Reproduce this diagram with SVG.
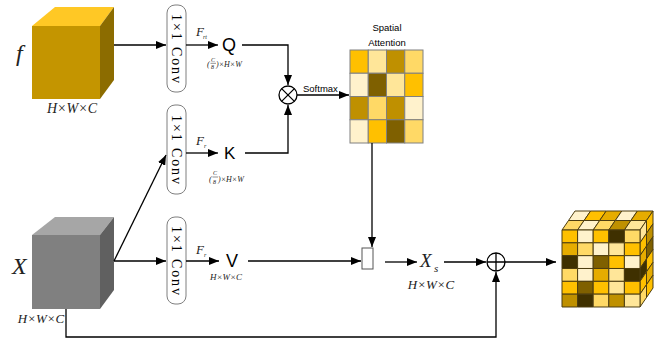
<svg xmlns="http://www.w3.org/2000/svg" width="656" height="340" viewBox="0 0 656 340">
<defs>
<marker id="ah" markerUnits="userSpaceOnUse" markerWidth="10" markerHeight="8" refX="10" refY="4" orient="auto">
<path d="M0,0 L10,4 L0,8 z" fill="#000"/>
</marker>
<style>
.ln{fill:none;stroke:#000;stroke-width:1.3}
.ar{marker-end:url(#ah)}
.conv{fill:#fff;stroke:#7f7f7f;stroke-width:1}
.ct{font-family:"Liberation Serif",serif;font-size:14px;fill:#000}
.it{font-family:"Liberation Serif",serif;font-style:italic;fill:#222}
.sans{font-family:"Liberation Sans",Arial,sans-serif;fill:#000}
.g rect{stroke:#808080;stroke-width:1}
.cb rect{stroke:#4d3d10;stroke-width:1;vector-effect:non-scaling-stroke}
.c1{fill:#FFF2CC}.c2{fill:#FFE699}.c3{fill:#FFD966}.c4{fill:#FFC000}.c5{fill:#E6AC00}.c6{fill:#BF9000}.c7{fill:#7F6000}.c8{fill:#3F3000}
</style>
</defs>

<g id="cube-f">
<polygon points="32,26 55,7 114,7 100,26" fill="#FFC825"/>
<polygon points="100,26 114,7 114,80 100,99" fill="#8C6C00"/>
<rect x="32" y="26" width="68" height="73" fill="#C49500"/>
<text class="it" x="16" y="61" font-size="24">f</text>
<text class="it" x="72" y="113" font-size="14" text-anchor="middle">H×W×C</text>
</g>

<g id="cube-x">
<polygon points="32,235 55,217 114,217 100,235" fill="#A6A6A6"/>
<polygon points="100,235 114,217 114,290 100,309" fill="#606060"/>
<rect x="32" y="235" width="68" height="74" fill="#808080"/>
<text class="it" x="12" y="274" font-size="24">X</text>
<text class="it" x="41" y="323" font-size="13" text-anchor="middle">H×W×C</text>
</g>

<g id="conv1">
<rect class="conv" x="167" y="5" width="19" height="87" rx="8"/>
<text class="ct" transform="translate(176.5,48.5) rotate(90)" text-anchor="middle" dominant-baseline="central" textLength="69" lengthAdjust="spacing">1×1 Conv</text>
</g>
<g id="conv2">
<rect class="conv" x="167" y="105" width="19" height="89" rx="8"/>
<text class="ct" transform="translate(176.5,149.5) rotate(90)" text-anchor="middle" dominant-baseline="central" textLength="69" lengthAdjust="spacing">1×1 Conv</text>
</g>
<g id="conv3">
<rect class="conv" x="167" y="217" width="19" height="87" rx="8"/>
<text class="ct" transform="translate(176.5,260.5) rotate(90)" text-anchor="middle" dominant-baseline="central" textLength="69" lengthAdjust="spacing">1×1 Conv</text>
</g>

<g id="q">
<text class="it" x="196" y="36" font-size="13">F</text>
<text class="it" x="203" y="39" font-size="6">rt</text>
<text class="sans" x="222" y="51" font-size="18">Q</text>
<text class="it" x="207" y="67" font-size="8">(</text>
<text class="it" x="211" y="62" font-size="6">C</text>
<line x1="210.5" y1="63.3" x2="216" y2="63.3" stroke="#222" stroke-width="0.5"/>
<text class="it" x="211" y="69" font-size="6">8</text>
<text class="it" x="216" y="67" font-size="8">)×H×W</text>
</g>

<g id="k">
<text class="it" x="196" y="145" font-size="13">F</text>
<text class="it" x="204" y="148" font-size="6">r</text>
<text class="sans" x="224" y="159" font-size="17">K</text>
<text class="it" x="209" y="182" font-size="8">(</text>
<text class="it" x="213" y="175" font-size="6">C</text>
<line x1="212.5" y1="177" x2="218" y2="177" stroke="#222" stroke-width="0.5"/>
<text class="it" x="213" y="184" font-size="6">8</text>
<text class="it" x="218" y="182" font-size="8">)×H×W</text>
</g>

<g id="v">
<text class="it" x="196" y="254" font-size="13">F</text>
<text class="it" x="204" y="257" font-size="6">r</text>
<text class="sans" x="226" y="267" font-size="18">V</text>
<text class="it" x="226" y="280" font-size="9" text-anchor="middle">H×W×C</text>
</g>

<g id="mul">
<circle cx="288" cy="95" r="9" fill="#fff" stroke="#000" stroke-width="1.3"/>
<path d="M281.6,88.6 L294.4,101.4 M294.4,88.6 L281.6,101.4" stroke="#000" stroke-width="1.3"/>
<text class="sans" x="303" y="92" font-size="9.5">Softmax</text>
</g>

<g id="attention">
<text class="sans" x="387" y="31" font-size="9.5" text-anchor="middle">Spatial</text>
<text class="sans" x="387" y="46" font-size="9.5" text-anchor="middle">Attention</text>
<g class="g">
<rect class="c4" x="350" y="50" width="18.25" height="23.25"/>
<rect class="c2" x="368.25" y="50" width="18.25" height="23.25"/>
<rect class="c6" x="386.5" y="50" width="18.25" height="23.25"/>
<rect class="c3" x="404.75" y="50" width="18.25" height="23.25"/>
<rect class="c1" x="350" y="73.25" width="18.25" height="23.25"/>
<rect class="c7" x="368.25" y="73.25" width="18.25" height="23.25"/>
<rect class="c2" x="386.5" y="73.25" width="18.25" height="23.25"/>
<rect class="c4" x="404.75" y="73.25" width="18.25" height="23.25"/>
<rect class="c6" x="350" y="96.5" width="18.25" height="23.25"/>
<rect class="c3" x="368.25" y="96.5" width="18.25" height="23.25"/>
<rect class="c6" x="386.5" y="96.5" width="18.25" height="23.25"/>
<rect class="c1" x="404.75" y="96.5" width="18.25" height="23.25"/>
<rect class="c1" x="350" y="119.75" width="18.25" height="23.25"/>
<rect class="c4" x="368.25" y="119.75" width="18.25" height="23.25"/>
<rect class="c7" x="386.5" y="119.75" width="18.25" height="23.25"/>
<rect class="c3" x="404.75" y="119.75" width="18.25" height="23.25"/>
</g>
</g>

<g id="matmul">
<rect x="362" y="248" width="11" height="21" fill="#fff" stroke="#555" stroke-width="1"/>
</g>

<g id="xs">
<text class="it" x="420" y="267" font-size="19">X</text>
<text class="it" x="434" y="272" font-size="11">s</text>
<text class="it" x="431" y="289" font-size="13" text-anchor="middle">H×W×C</text>
</g>

<g id="add">
<circle cx="496" cy="262" r="9" fill="#fff" stroke="#000" stroke-width="1.3"/>
<path d="M487,262 H505 M496,253 V271" stroke="#000" stroke-width="1.3"/>
</g>

<g id="output">
<g class="cb" transform="matrix(15.6,0,6.5,-9.5,562,230)">
<rect class="c3" x="0" y="0" width="1" height="1"/>
<rect class="c1" x="1" y="0" width="1" height="1"/>
<rect class="c3" x="2" y="0" width="1" height="1"/>
<rect class="c6" x="3" y="0" width="1" height="1"/>
<rect class="c2" x="4" y="0" width="1" height="1"/>
<rect class="c1" x="0" y="1" width="1" height="1"/>
<rect class="c4" x="1" y="1" width="1" height="1"/>
<rect class="c5" x="2" y="1" width="1" height="1"/>
<rect class="c1" x="3" y="1" width="1" height="1"/>
<rect class="c5" x="4" y="1" width="1" height="1"/>
</g>
<g class="cb" transform="matrix(6.5,-9.5,0,12.833,640,230)">
<rect class="c2" x="0" y="0" width="1" height="1"/>
<rect class="c4" x="1" y="0" width="1" height="1"/>
<rect class="c4" x="0" y="1" width="1" height="1"/>
<rect class="c6" x="1" y="1" width="1" height="1"/>
<rect class="c5" x="0" y="2" width="1" height="1"/>
<rect class="c7" x="1" y="2" width="1" height="1"/>
<rect class="c8" x="0" y="3" width="1" height="1"/>
<rect class="c4" x="1" y="3" width="1" height="1"/>
<rect class="c4" x="0" y="4" width="1" height="1"/>
<rect class="c5" x="1" y="4" width="1" height="1"/>
<rect class="c3" x="0" y="5" width="1" height="1"/>
<rect class="c4" x="1" y="5" width="1" height="1"/>
</g>
<g class="cb" transform="matrix(15.6,0,0,12.833,562,230)">
<rect class="c4" x="0" y="0" width="1" height="1"/>
<rect class="c1" x="1" y="0" width="1" height="1"/>
<rect class="c4" x="2" y="0" width="1" height="1"/>
<rect class="c8" x="3" y="0" width="1" height="1"/>
<rect class="c3" x="4" y="0" width="1" height="1"/>
<rect class="c5" x="0" y="1" width="1" height="1"/>
<rect class="c3" x="1" y="1" width="1" height="1"/>
<rect class="c1" x="2" y="1" width="1" height="1"/>
<rect class="c2" x="3" y="1" width="1" height="1"/>
<rect class="c4" x="4" y="1" width="1" height="1"/>
<rect class="c8" x="0" y="2" width="1" height="1"/>
<rect class="c1" x="1" y="2" width="1" height="1"/>
<rect class="c7" x="2" y="2" width="1" height="1"/>
<rect class="c4" x="3" y="2" width="1" height="1"/>
<rect class="c1" x="4" y="2" width="1" height="1"/>
<rect class="c3" x="0" y="3" width="1" height="1"/>
<rect class="c1" x="1" y="3" width="1" height="1"/>
<rect class="c5" x="2" y="3" width="1" height="1"/>
<rect class="c2" x="3" y="3" width="1" height="1"/>
<rect class="c8" x="4" y="3" width="1" height="1"/>
<rect class="c4" x="0" y="4" width="1" height="1"/>
<rect class="c7" x="1" y="4" width="1" height="1"/>
<rect class="c4" x="2" y="4" width="1" height="1"/>
<rect class="c2" x="3" y="4" width="1" height="1"/>
<rect class="c4" x="4" y="4" width="1" height="1"/>
<rect class="c6" x="0" y="5" width="1" height="1"/>
<rect class="c8" x="1" y="5" width="1" height="1"/>
<rect class="c3" x="2" y="5" width="1" height="1"/>
<rect class="c6" x="3" y="5" width="1" height="1"/>
<rect class="c2" x="4" y="5" width="1" height="1"/>
</g>
</g>

<g id="connectors">
<path class="ln ar" d="M114,45 H166"/>
<path class="ln ar" d="M186,45 H218"/>
<path class="ln ar" d="M242,45 H288 V85"/>
<path class="ln ar" d="M245,153 H288 V105"/>
<path class="ln ar" d="M297,95 H349"/>
<path class="ln ar" d="M114,261 L166,155"/>
<path class="ln ar" d="M186,153 H218"/>
<path class="ln ar" d="M114,261 H166"/>
<path class="ln ar" d="M186,261 H219"/>
<path class="ln ar" d="M248,261 H361"/>
<path class="ln ar" d="M372,143 V247"/>
<path class="ln ar" d="M385,262 H417"/>
<path class="ln ar" d="M444,262 H486"/>
<path class="ln ar" d="M505,262 H556"/>
<path class="ln ar" d="M66,309 V337 H496 V272"/>
</g>
</svg>
